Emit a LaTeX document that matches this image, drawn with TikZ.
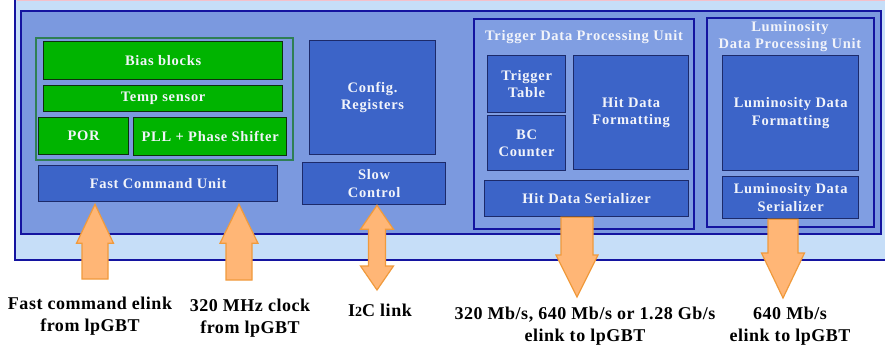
\documentclass[tikz,border=0pt]{standalone}
\usepackage{fontspec}
\setmainfont{Liberation Serif}
\newfontfamily\boxfam[LetterSpace=5]{Liberation Serif}
\newfontfamily\labfam[LetterSpace=3]{Liberation Serif}
\usetikzlibrary{calc}

\definecolor{outerbg}{HTML}{C6DEF8}
\definecolor{midbg}{HTML}{7B99DF}
\definecolor{unitbg}{HTML}{809EE2}
\definecolor{navy}{HTML}{1414A0}
\definecolor{boxblue}{HTML}{3C64C8}
\definecolor{boxedge}{HTML}{1C2A6A}
\definecolor{chipgreen}{HTML}{00B400}
\definecolor{greenedge}{HTML}{0E300E}
\definecolor{grpedge}{HTML}{2F7F55}
\definecolor{arrfill}{HTML}{FFB676}
\definecolor{arredge}{HTML}{F09A3C}
\definecolor{topline}{HTML}{F4C0CA}
\definecolor{paleText}{HTML}{F2F4FA}

% vertical block arrow: tail point, tip point, half shaft, half head, head length
\newcommand\blockarrow[5]{%
  \filldraw[barrow] let \p1=#1, \p2=#2, \n1={ifthenelse(\y2>\y1,1,-1)} in
    (\x1-#3,\y1) -- (\x2-#3,\y2-\n1*#5) -- (\x2-#4,\y2-\n1*#5) -- (\x2,\y2)
    -- (\x2+#4,\y2-\n1*#5) -- (\x2+#3,\y2-\n1*#5) -- (\x1+#3,\y1) -- cycle;}
% vertical block arrow with heads at both ends
\newcommand\doubleblockarrow[5]{%
  \filldraw[barrow] let \p1=#1, \p2=#2, \n1={ifthenelse(\y2>\y1,1,-1)} in
    (\x1,\y1) -- (\x1+#4,\y1+\n1*#5) -- (\x1+#3,\y1+\n1*#5) -- (\x2+#3,\y2-\n1*#5)
    -- (\x2+#4,\y2-\n1*#5) -- (\x2,\y2) -- (\x2-#4,\y2-\n1*#5) -- (\x2-#3,\y2-\n1*#5)
    -- (\x1-#3,\y1+\n1*#5) -- (\x1-#4,\y1+\n1*#5) -- cycle;}

\tikzset{
  boxtext/.style={font=\boxfam\bfseries\fontsize{14.5}{17.5}\selectfont, text=paleText},
  blk/.style={boxtext, draw=boxedge, fill=boxblue, line width=1.3pt, align=center,
    inner sep=0pt, anchor=north west},
  gblk/.style={blk, draw=greenedge, fill=chipgreen},
  unit/.style={draw=navy, fill=unitbg, line width=1.8pt, inner sep=0pt, anchor=north west},
  grp/.style={draw=grpedge, line width=2pt, inner sep=0pt, anchor=north west},
  title/.style={boxtext, align=center, inner sep=0pt},
  lab/.style={font=\labfam\bfseries\fontsize{18}{22}\selectfont, align=center, inner sep=0pt},
  barrow/.style={fill=arrfill, draw=arredge, line width=1.2pt, line join=miter},
}

\begin{document}
\begin{tikzpicture}[x=1pt,y=-1pt]
\useasboundingbox (0,0) rectangle (885,347);
\fill[white] (0,0) rectangle (885,347);

% chip frames
\begin{scope}
  \clip (0,0) rectangle (885,347);
  \draw[draw=navy, fill=outerbg, line width=2pt] (15,-10) rectangle (900,260);
  \draw[topline, line width=1.5pt] (17,0.6) -- (885,0.6);
  \draw[draw=navy, fill=midbg, line width=1.8pt] (21,11) rectangle (881,234);
\end{scope}

% analog / clocking group
\node[grp, minimum width=257pt, minimum height=122pt] (misc) at (35,37) {};
\node[gblk, minimum width=239pt, minimum height=38pt] (bias) at (43,41) {Bias blocks};
\node[gblk, minimum width=239pt, minimum height=26pt] (temp) at (43,85) {Temp sensor};
\node[gblk, minimum width=90pt, minimum height=37pt] (por) at (38,117) {POR};
\node[gblk, minimum width=153pt, minimum height=38pt] (pll) at (133,117) {PLL + Phase Shifter};
\node[blk, minimum width=239pt, minimum height=36pt] (fcu) at (38,165) {Fast Command Unit};

% configuration
\node[blk, minimum width=126pt, minimum height=114pt] (cfg) at (309,40) {Config.\\Registers};
\node[blk, minimum width=143pt, minimum height=42pt] (slow) at (302,162) {Slow\\Control};

% trigger data path
\node[unit, minimum width=220pt, minimum height=210pt] (tdpu) at (473,18) {};
\node[title] (tdputitle) at (584,37) {Trigger Data Processing Unit};
\node[blk, minimum width=78pt, minimum height=57pt] (ttab) at (487,55) {Trigger\\Table};
\node[blk, minimum width=78pt, minimum height=55pt] (bcc) at (487,115) {BC\\Counter};
\node[blk, minimum width=115pt, minimum height=114pt] (hdf) at (573,55) {Hit Data\\Formatting};
\node[blk, minimum width=204pt, minimum height=36pt] (hds) at (484,180) {Hit Data Serializer};

% luminosity data path
\node[unit, minimum width=167pt, minimum height=209pt] (ldpu) at (706,17) {};
\node[title] (ldputitle) at (790,36.5) {Luminosity\\Data Processing Unit};
\node[blk, minimum width=136pt, minimum height=115pt] (ldf) at (722,55) {Luminosity Data\\Formatting};
\node[blk, minimum width=136pt, minimum height=42pt] (lds) at (722,176) {Luminosity Data\\Serializer};

% external link ends
\coordinate (fcin) at (95,279);
\coordinate (clkin) at (239,280);
\coordinate (i2cend) at (377,290);
\coordinate (trigout) at (577,297);
\coordinate (lumiout) at (783,298);

% links
\blockarrow{(fcin)}{($(fcin |- fcu.south)+(0,2)$)}{13pt}{18.5pt}{39pt}
\blockarrow{(clkin)}{($(clkin |- fcu.south)+(0,2)$)}{13pt}{19pt}{39pt}
\doubleblockarrow{(i2cend |- slow.south)}{(i2cend)}{8.5pt}{16.5pt}{24pt}
\blockarrow{(trigout |- hds.south)}{(trigout)}{16pt}{21pt}{42pt}
\blockarrow{(lumiout |- lds.south)}{(lumiout)}{15pt}{21.5pt}{45pt}

% link labels
\node[lab] (fclab) at (90,316) {Fast command elink\\from lpGBT};
\node[lab] (clklab) at (250,318.5) {320 MHz clock\\from lpGBT};
\node[lab] (i2clab) at (380,310) {I{\fontsize{14}{14}\selectfont 2}C link};
\node[lab] (triglab) at (585,326) {320 Mb/s, 640 Mb/s or 1.28 Gb/s\\elink to lpGBT};
\node[lab] (lumilab) at (790,326) {640 Mb/s\\elink to lpGBT};
\end{tikzpicture}
\end{document}
